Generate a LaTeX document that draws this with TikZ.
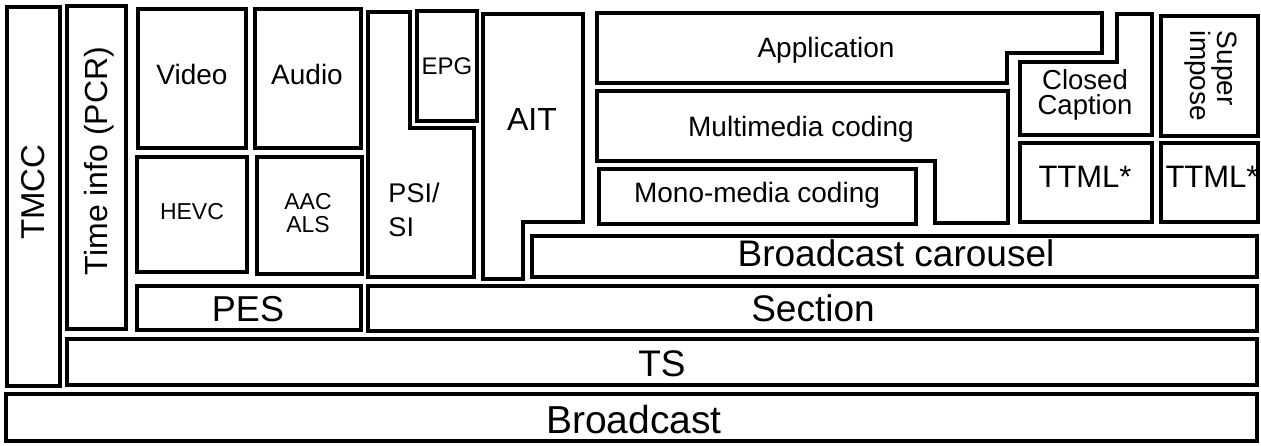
\documentclass[tikz,border=0pt]{standalone}
\usepackage{fontspec}
\setmainfont{Liberation Sans}
\usepackage{tikz}
\usetikzlibrary{calc}
\tikzstyle{every node}=[inner sep=0pt, font=\fontsize{28}{28}\selectfont]
\tikzstyle{blk}=[line width=3.2pt, color=black]
\tikzstyle{txtbig}=[anchor=base, font=\fontsize{37}{37}\selectfont]
\tikzstyle{txtmid}=[anchor=base, font=\fontsize{28}{28}\selectfont]
\tikzstyle{txtsml}=[anchor=base, font=\fontsize{23}{23}\selectfont]

\begin{document}
\begin{tikzpicture}[line cap=round,line join=miter,x=1pt,y=-1pt]
\useasboundingbox (0,0) rectangle (1261,446);
% left columns
\draw [blk] (7,7) rectangle (60,386);
\draw [blk] (67,6) rectangle (126,329);
% video / audio
\draw [blk] (138,9) rectangle (246,148);
\draw [blk] (255,9) rectangle (361,148);
\draw [blk] (137,157) rectangle (247,272);
\draw [blk] (257,157) rectangle (362,274);
\draw [blk] (137,286) rectangle (361,330);
% PSI/SI, EPG, AIT
\draw [blk] (368,12) -- (410,12) -- (410,128) -- (474,128) -- (474,277) -- (368,277) -- cycle;
\draw [blk] (417,11) rectangle (477,121);
\draw [blk] (483,14) -- (583,14) -- (583,222) -- (523,222) -- (523,279) -- (483,279) -- cycle;
% application side
\draw [blk] (597,13) -- (1102,13) -- (1102,53) -- (1007,53) -- (1007,83) -- (597,83) -- cycle;
\draw [blk] (597,91) -- (1008,91) -- (1008,223) -- (935,223) -- (935,161) -- (597,161) -- cycle;
\draw [blk] (599,169) rectangle (916,224);
\draw [blk] (1020,62) -- (1117,62) -- (1117,14) -- (1152,14) -- (1152,135) -- (1020,135) -- cycle;
\draw [blk] (1161,16) rectangle (1258,136);
\draw [blk] (1020,143) rectangle (1152,222);
\draw [blk] (1161,143) rectangle (1258,222);
% lower layers
\draw [blk] (532,236) rectangle (1257,277);
\draw [blk] (368,286) rectangle (1257,331);
\draw [blk] (67,339) rectangle (1257,385);
\draw [blk] (6,394) rectangle (1257,441);
% labels
\node [anchor=base, rotate=90, font=\fontsize{33}{33}\selectfont] (tmcc) at (44,192) {TMCC};
\node [anchor=base, rotate=90, font=\fontsize{32}{32}\selectfont] (pcr) at (107,161) {Time info (PCR)};
\node [txtmid] (video) at (192,85) {Video};
\node [txtmid] (audio) at (307,85) {Audio};
\node [txtsml] (hevc) at (192,220) {HEVC};
\node [align=center, font=\fontsize{23}{23}\selectfont] (aac) at (308,213) {AAC\\ALS};
\node [txtbig, font=\fontsize{36}{36}\selectfont] (pes) at (248,322) {PES};
\node [align=left, font=\fontsize{27}{34}\selectfont] (psi) at (414,210) {PSI/\\SI};
\node [txtsml, font=\fontsize{24}{24}\selectfont] (epg) at (447,75) {EPG};
\node [txtbig, font=\fontsize{32}{32}\selectfont] (ait) at (532,131) {AIT};
\node [txtmid] (app) at (826,58) {Application};
\node [txtmid] (multi) at (801,137) {Multimedia coding};
\node [txtmid] (mono) at (757,203) {Mono-media coding};
\node [align=center, font=\fontsize{27.5}{25}\selectfont] (cc) at (1085,94.5) {Closed\\Caption};
\node [txtbig, font=\fontsize{31}{31}\selectfont] (ttmla) at (1085,188) {TTML*};
\node [txtbig, font=\fontsize{31}{31}\selectfont] (ttmlb) at (1212,188) {TTML*};
\node [rotate=-90, align=left, font=\fontsize{28}{26}\selectfont] (sup) at (1211,76) {Super\\impose};
\node [txtbig] (carousel) at (896,267) {Broadcast carousel};
\node [txtbig] (section) at (813,322) {Section};
\node [txtbig] (ts) at (662,376) {TS};
\node [txtbig, font=\fontsize{39}{39}\selectfont] (bcast) at (634,433) {Broadcast};
\end{tikzpicture}
\end{document}
